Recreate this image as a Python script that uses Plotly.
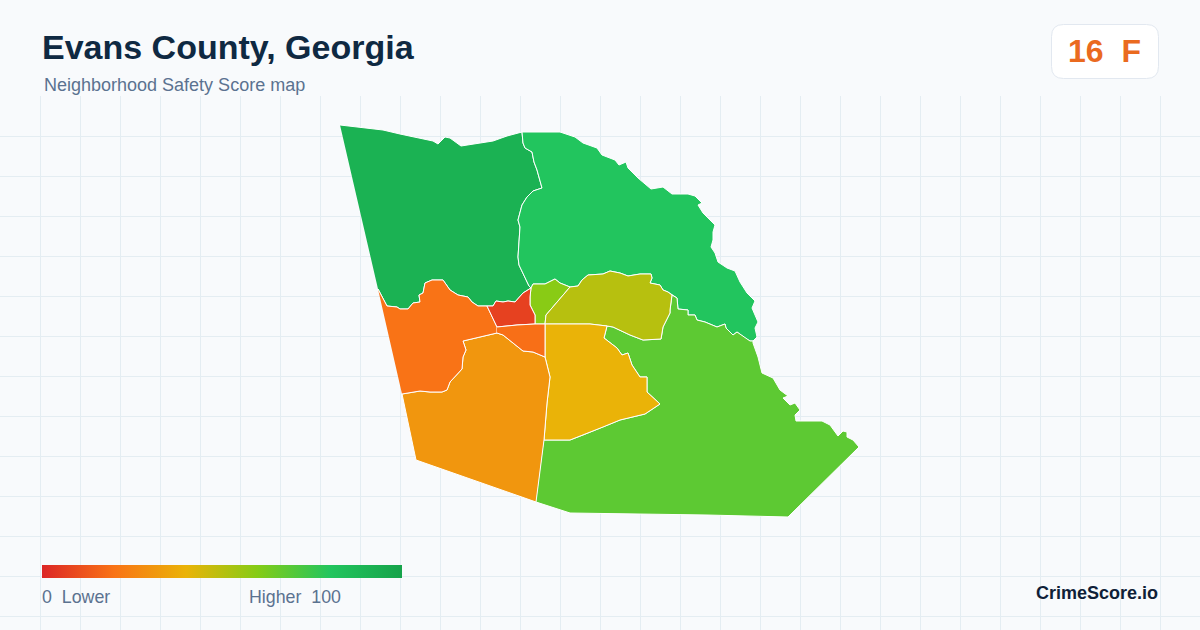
import numpy as np
import plotly.graph_objects as go

WIDTH = 1200
HEIGHT = 630
GRID_TOP = 96.5

# borders are (map x, map y) lists, shared between neighbouring areas
north_edge_nw = [(340, 125), (383, 130), (400, 134), (433, 141), (438, 144), (445, 137), (450, 138),
                 (461, 146), (493, 141), (507, 136), (522, 132)]
nw_ne_border = [(522, 132), (523, 143), (525, 148), (532, 152), (534, 162), (537, 170), (542, 188),
                (533, 191), (527, 197), (522, 205), (518, 220), (520, 227), (518, 257), (519, 265),
                (529, 286), (531, 288)]
nw_red_border = [(531, 288), (523, 293), (515, 302), (508, 301), (503, 302), (496, 301), (493, 306), (487, 306)]
nw_west_border = [(487, 306), (478, 306), (472, 302), (468, 297), (458, 295), (450, 290), (443, 280),
                  (432, 280), (425, 283), (423, 293), (419, 295), (420, 302), (413, 303),
                  (408, 309), (400, 309), (397, 307), (387, 306), (378, 289)]
ne_outer_edge = [(522, 132), (560, 132), (575, 137), (583, 143), (597, 148), (602, 155), (615, 160), (619, 165),
                 (626, 162), (628, 168), (638, 178), (651, 189), (663, 187), (672, 194), (688, 194),
                 (695, 196), (702, 203), (698, 205), (703, 213), (715, 225), (713, 232), (713, 240),
                 (711, 247), (715, 253), (718, 262), (727, 268), (735, 271), (740, 282), (747, 293),
                 (755, 301), (752, 308), (758, 322), (755, 328), (757, 337), (753, 341)]
ne_se_border = [(753, 341), (750, 341), (745, 338), (737, 332), (733, 335), (726, 328), (725, 324),
                (717, 327), (705, 322), (697, 320), (695, 315), (688, 315), (688, 310),
                (678, 309), (677, 298), (672, 295)]
ne_olive_border = [(672, 295), (668, 292), (663, 290), (660, 285), (650, 283), (652, 278), (651, 274), (640, 274),
                   (628, 276), (620, 273), (610, 271), (603, 274), (588, 275), (582, 280), (578, 286),
                   (570, 287)]
ne_lime_border = [(570, 287), (560, 283), (555, 279), (545, 284), (533, 284), (531, 288)]
lime_red_border = [(531, 288), (530, 297), (530, 305), (535, 315), (535, 324)]
lime_olive_border = [(570, 287), (546, 315), (545, 324)]
olive_se_border = [(672, 295), (670, 310), (670, 313), (663, 327), (661, 339), (643, 340), (630, 335),
                   (613, 327), (607, 326)]
olive_yellow_border = [(607, 326), (590, 324), (545, 324)]
yellow_se_border = [(607, 326), (604, 338), (617, 348), (622, 355), (628, 353), (632, 365), (640, 377),
                    (647, 377), (647, 392), (660, 404), (645, 414), (620, 420), (603, 427), (583, 435),
                    (570, 440), (544, 440)]
yellow_south_border = [(545, 357), (550, 377), (547, 403), (544, 440)]
yellow_small_border = [(545, 324), (545, 357)]
small_red_border = [(535, 324), (517, 325), (497, 327)]
small_south_border = [(545, 357), (533, 352), (523, 351), (503, 335), (497, 333)]
west_south_border = [(497, 333), (463, 341), (466, 350), (463, 357), (462, 369), (450, 382), (447, 390),
                     (442, 392), (430, 392), (420, 391), (402, 394)]
se_outer_edge = [(753, 341), (753, 343), (758, 357), (762, 373), (773, 378), (780, 390), (788, 396), (783, 398),
                 (790, 405), (795, 403), (800, 410), (795, 415), (796, 421), (822, 421), (830, 425),
                 (838, 436), (843, 431), (847, 432), (847, 437), (853, 440), (859, 447), (788, 517),
                 (707, 515), (600, 513), (570, 513), (536, 502)]
south_edge = [(536, 502), (416, 460), (402, 394)]

rev = lambda seg: seg[::-1]

area_names = ["Northwest", "Northeast", "Southeast", "Central north", "Central east", "Central",
              "South", "West", "Downtown north", "Downtown south"]
area_scores = [91, 80, 68, 59, 50, 40, 31, 20, 7, 19]
area_borders = [
    north_edge_nw + nw_ne_border + nw_red_border + nw_west_border,
    ne_outer_edge + ne_se_border + ne_olive_border + ne_lime_border + rev(nw_ne_border),
    yellow_se_border[::-1] + olive_se_border[::-1] + rev(ne_se_border) + se_outer_edge,
    ne_lime_border + lime_red_border + rev(lime_olive_border),
    rev(ne_olive_border) + olive_se_border + olive_yellow_border + rev(lime_olive_border),
    rev(olive_yellow_border) + yellow_se_border + rev(yellow_south_border) + rev(yellow_small_border),
    rev(west_south_border) + rev(small_south_border) + yellow_south_border + [(536, 502)] + south_edge,
    rev(nw_west_border) + [(497, 327), (497, 333)] + west_south_border,
    nw_red_border + [(497, 327)] + rev(small_red_border) + rev(lime_red_border),
    rev(small_red_border) + yellow_small_border + small_south_border,
]

score_stops = [0, 20, 40, 60, 80, 100]
score_r = [220, 249, 234, 132, 34, 22]
score_g = [38, 115, 179, 204, 197, 163]
score_b = [38, 22, 8, 22, 94, 74]
colorscale = [[s / 100, f"rgb({r},{g},{b})"] for s, r, g, b in zip(score_stops, score_r, score_g, score_b)]

grid_color = "#e4edf2"
bg_color = "#f8fafc"


def score_color(score):
    r, g, b = (np.interp(score, score_stops, c) for c in (score_r, score_g, score_b))
    return f"rgb({r:.0f},{g:.0f},{b:.0f})"


def fx(x):
    return x / WIDTH


def fy(y):
    return 1 - y / HEIGHT


def label(text, x, y, size, color, bold=False, anchor="left"):
    return dict(text=f"<b>{text}</b>" if bold else text, x=fx(x), y=fy(y), xref="paper", yref="paper",
                xanchor=anchor, yanchor="middle", showarrow=False, borderpad=0,
                font=dict(family="Liberation Sans", size=size, color=color))


fig = go.Figure()

for name, score, border in zip(area_names, area_scores, area_borders):
    fig.add_trace(go.Scatter(x=[p[0] for p in border], y=[p[1] for p in border], name=name,
                             mode="lines", fill="toself", fillcolor=score_color(score),
                             line=dict(color="white", width=1), hoverinfo="name"))

# only here to carry the colorbar
fig.add_trace(go.Scatter(x=[340, 340], y=[125, 125], mode="markers", hoverinfo="skip",
                         marker=dict(size=1, opacity=0, color=[0, 100], cmin=0, cmax=100,
                                     colorscale=colorscale, showscale=True,
                                     colorbar=dict(orientation="h", lenmode="pixels", len=360,
                                                   thicknessmode="pixels", thickness=13,
                                                   x=fx(42), xanchor="left", y=fy(578), yanchor="bottom",
                                                   outlinewidth=0, ticks="", showticklabels=False,
                                                   xpad=0, ypad=0))))

# rounded badge, corner radius 12
bx0, bx1, by0, by1, r = 1051.5, 1158.5, 24.5, 78.5, 12
badge = (f"M {fx(bx0 + r)} {fy(by0)} L {fx(bx1 - r)} {fy(by0)} Q {fx(bx1)} {fy(by0)} {fx(bx1)} {fy(by0 + r)} "
         f"L {fx(bx1)} {fy(by1 - r)} Q {fx(bx1)} {fy(by1)} {fx(bx1 - r)} {fy(by1)} "
         f"L {fx(bx0 + r)} {fy(by1)} Q {fx(bx0)} {fy(by1)} {fx(bx0)} {fy(by1 - r)} "
         f"L {fx(bx0)} {fy(by0 + r)} Q {fx(bx0)} {fy(by0)} {fx(bx0 + r)} {fy(by0)} Z")

fig.update_layout(
    width=WIDTH, height=HEIGHT, showlegend=False,
    margin=dict(l=0, r=0, t=0, b=0, autoexpand=False),
    paper_bgcolor=bg_color, plot_bgcolor=bg_color,
    xaxis=dict(range=[0, WIDTH], tick0=0.5, dtick=40, showgrid=True, gridcolor=grid_color, gridwidth=1,
               zeroline=False, showticklabels=False, ticks="", fixedrange=True),
    yaxis=dict(range=[HEIGHT, GRID_TOP - 1], domain=[0, fy(GRID_TOP - 1)], tick0=GRID_TOP, dtick=40,
               showgrid=True, gridcolor=grid_color, gridwidth=1, zeroline=False, showticklabels=False,
               ticks="", fixedrange=True),
    shapes=[dict(type="path", path=badge, xref="paper", yref="paper", fillcolor="white",
                 line=dict(color="#e2e8f0", width=1), layer="above")],
    annotations=[
        label("Evans County, Georgia", 41, 47, 34, "#0f2942", bold=True),
        label("Neighborhood Safety Score map", 43, 85, 18, "#5b7290"),
        label("16\u00a0\u00a0F", 1104.5, 51, 32, "#ea6a1f", bold=True, anchor="center"),
        label("0\u00a0\u00a0Lower", 41, 597, 17.8, "#5b7290"),
        label("Higher\u00a0\u00a0100", 248, 597, 17.8, "#5b7290"),
        label("CrimeScore.io", 1159, 593, 18, "#0f1f38", bold=True, anchor="right"),
    ],
)

fig.write_html("out.html", config={"displayModeBar": False},
               post_script="document.body.style.margin='0';document.body.style.overflow='hidden';")
